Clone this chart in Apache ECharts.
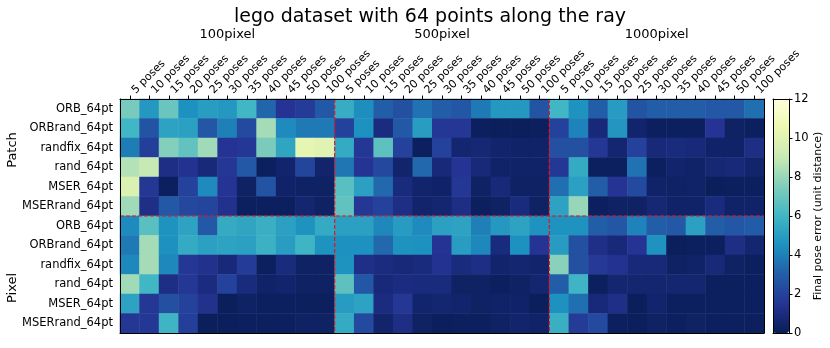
<!DOCTYPE html>
<html>
<head>
<meta charset="utf-8">
<script src="https://cdn.jsdelivr.net/npm/echarts@6/dist/echarts.min.js"></script>
<style>
  html, body { margin: 0; padding: 0; background: #fff; }
  #main { width: 830px; height: 348px; }
</style>
</head>
<body>
<div id="main"></div>
<script>
// column groups and pose counts
var groups = ['100pixel', '500pixel', '1000pixel'];
var poses = ['5 poses', '10 poses', '15 poses', '20 poses', '25 poses', '30 poses',
             '35 poses', '40 poses', '45 poses', '50 poses', '100 poses'];
var blocks = ['Patch', 'Pixel'];
var rowLabels = ['ORB_64pt', 'ORBrand_64pt', 'randfix_64pt', 'rand_64pt', 'MSER_64pt', 'MSERrand_64pt',
                 'ORB_64pt', 'ORBrand_64pt', 'randfix_64pt', 'rand_64pt', 'MSER_64pt', 'MSERrand_64pt'];
var cbTicks = [0, 2, 4, 6, 8, 10, 12];

// final pose error, 100pixel | 500pixel | 1000pixel
var patchORB = [7.3, 4.8, 7.0, 4.5, 5.0, 4.8, 6.0, 3.2, 1.5, 1.8, 2.8,
                5.6, 4.4, 3.0, 2.5, 3.6, 3.0, 2.7, 3.8, 4.8, 4.8, 2.6,
                6.0, 4.6, 3.0, 4.9, 2.6, 3.0, 3.0, 3.0, 2.8, 2.8, 3.5];
var patchORBrand = [6.0, 2.6, 5.2, 5.1, 2.7, 4.0, 2.3, 8.3, 4.3, 3.8, 3.8,
                    2.0, 4.5, 1.0, 2.8, 5.0, 1.6, 1.6, 0.2, 0.1, 0.1, 0.2,
                    2.0, 4.1, 0.8, 4.7, 0.5, 0.2, 0.2, 0.2, 1.5, 0.3, 0.2];
var patchRandfix = [3.9, 1.9, 7.6, 6.8, 8.2, 1.5, 1.6, 7.4, 5.3, 10.2, 10.0,
                    5.5, 1.6, 6.7, 2.0, 0.2, 2.0, 0.6, 0.7, 0.5, 0.4, 0.4,
                    2.5, 2.5, 1.6, 0.6, 2.0, 0.8, 0.9, 0.8, 0.4, 0.4, 1.1];
var patchRand = [8.6, 9.0, 1.1, 1.4, 0.8, 1.6, 2.8, 0.2, 0.5, 2.1, 0.5,
                 3.7, 1.5, 2.2, 0.5, 3.3, 0.8, 1.5, 0.8, 0.4, 0.4, 0.4,
                 1.6, 5.5, 0.2, 0.2, 3.6, 0.2, 0.5, 0.4, 0.7, 0.8, 0.5];
var patchMSER = [9.8, 1.6, 0.2, 2.0, 4.3, 1.5, 0.3, 2.6, 0.4, 0.3, 0.3,
                 6.6, 5.1, 3.3, 0.9, 0.5, 0.4, 1.6, 0.3, 0.8, 0.3, 0.3,
                 3.5, 5.1, 3.0, 1.5, 2.3, 0.4, 0.3, 0.4, 0.1, 0.2, 0.2];
var patchMSERrand = [8.2, 1.2, 2.8, 2.2, 2.1, 1.3, 0.2, 0.2, 0.2, 0.6, 0.3,
                     6.8, 1.6, 2.0, 1.1, 0.5, 0.6, 1.1, 0.2, 0.3, 0.9, 0.3,
                     5.2, 8.0, 0.2, 0.3, 0.3, 0.7, 0.4, 0.4, 0.9, 0.4, 0.4];
var pixelORB = [4.3, 6.6, 4.6, 5.2, 2.8, 5.5, 5.3, 5.7, 5.1, 4.6, 5.5,
                5.1, 5.1, 4.2, 4.9, 4.3, 5.1, 5.2, 4.0, 4.8, 5.2, 4.6,
                4.6, 4.6, 3.0, 2.7, 4.1, 3.0, 2.8, 5.1, 3.0, 2.7, 2.9];
var pixelORBrand = [3.8, 8.3, 4.5, 5.5, 5.1, 5.2, 5.1, 5.8, 5.0, 5.9, 4.6,
                    4.5, 4.5, 3.3, 4.6, 4.5, 1.5, 5.0, 4.2, 0.9, 4.5, 1.5,
                    4.9, 2.5, 1.2, 0.8, 1.5, 4.6, 0.1, 0.2, 0.2, 1.1, 0.6];
var pixelRandfix = [4.2, 8.3, 4.2, 1.6, 1.3, 0.8, 1.8, 0.2, 0.9, 0.3, 0.3,
                    4.6, 1.2, 1.0, 0.8, 0.9, 1.4, 0.9, 1.1, 0.5, 0.6, 0.5,
                    7.7, 2.5, 1.7, 1.4, 0.8, 0.8, 0.3, 0.4, 0.8, 0.3, 0.2];
var pixelRand = [8.2, 6.0, 1.1, 1.6, 1.0, 2.0, 0.9, 0.4, 0.5, 0.3, 0.3,
                 6.7, 2.7, 0.8, 1.0, 0.9, 0.9, 0.3, 0.3, 0.2, 0.3, 0.6,
                 3.0, 5.9, 0.2, 0.6, 0.6, 0.6, 0.6, 0.6, 0.2, 0.2, 0.2];
var pixelMSER = [5.2, 1.6, 2.5, 2.0, 1.3, 0.1, 0.3, 0.2, 0.2, 0.2, 0.2,
                 4.9, 5.2, 1.0, 1.6, 0.5, 0.6, 0.5, 0.3, 0.4, 0.4, 0.1,
                 4.5, 3.5, 0.8, 1.2, 0.1, 0.5, 0.2, 0.2, 0.2, 0.2, 0.2];
var pixelMSERrand = [1.6, 1.6, 5.9, 1.9, 0.1, 0.1, 0.2, 0.2, 0.2, 0.3, 0.3,
                     5.5, 2.3, 0.5, 1.1, 0.3, 0.1, 0.2, 0.2, 0.3, 0.5, 0.4,
                     5.7, 1.8, 2.3, 0.2, 0.1, 0.3, 0.2, 0.3, 0.2, 0.2, 0.2];

var rows = [patchORB, patchORBrand, patchRandfix, patchRand, patchMSER, patchMSERrand,
            pixelORB, pixelORBrand, pixelRandfix, pixelRand, pixelMSER, pixelMSERrand];

var xCats = [];
groups.forEach(function () { poses.forEach(function (p) { xCats.push(p); }); });

var cells = [];
rows.forEach(function (r, yi) {
  r.forEach(function (v, xi) { cells.push([xi, yi, v]); });
});

var nx = xCats.length, ny = rowLabels.length;
// red dashed separators along group / block boundaries
var sepLines = [];
for (var g = 1; g < groups.length; g++) {
  var xb = g * poses.length - 0.5;
  sepLines.push([[xb, -0.5], [xb, ny - 0.5]]);
}
for (var b = 1; b < blocks.length; b++) {
  var yb = b * ny / blocks.length - 0.5;
  sepLines.push([[-0.5, yb], [nx - 0.5, yb]]);
}

var font = 'DejaVu Sans';
var ylgnbu = ['#081d58', '#253494', '#225ea8', '#1d91c0', '#41b6c4', '#7fcdbb', '#c7e9b4', '#edf8b1', '#ffffd9'];

var myChart = echarts.init(document.getElementById('main'));
var blank = { show: false };
var frame = { show: true, onZero: false, lineStyle: { color: '#000', width: 1 } };

var option = {
  animation: false,
  textStyle: { fontFamily: font },
  grid: [
    { left: 120, top: 99, width: 644, height: 234 },
    { left: 773, top: 99, width: 16, height: 234 }
  ],
  xAxis: [
    {
      type: 'category', data: xCats, position: 'top', gridIndex: 0,
      axisLine: frame,
      axisTick: { show: true, alignWithLabel: true, length: 3.5, lineStyle: { color: '#000' } },
      axisLabel: { rotate: -45, fontSize: 11, color: '#000', margin: 11, interval: 0, verticalAlign: 'top' },
      splitLine: blank, z: 10
    },
    {
      type: 'value', min: -0.5, max: nx - 0.5, position: 'bottom', gridIndex: 0,
      axisLine: frame, axisTick: blank, axisLabel: blank, splitLine: blank, z: 10
    },
    {
      type: 'category', data: groups, position: 'top', gridIndex: 0, offset: 58,
      axisLine: blank, axisTick: blank, splitLine: blank,
      axisLabel: { fontSize: 13, color: '#000', margin: 0 }
    },
    {
      type: 'value', min: 0, max: 1, gridIndex: 1, position: 'bottom',
      axisLine: frame, axisTick: blank, axisLabel: blank, splitLine: blank, z: 10
    },
    {
      type: 'value', min: 0, max: 1, gridIndex: 1, position: 'top',
      axisLine: frame, axisTick: blank, axisLabel: blank, splitLine: blank, z: 10
    }
  ],
  yAxis: [
    {
      type: 'category', data: rowLabels, inverse: true, gridIndex: 0,
      axisLine: frame,
      axisTick: { alignWithLabel: true, length: 3.5, lineStyle: { color: '#000' } },
      axisLabel: { fontSize: 11.5, color: '#000', margin: 7, interval: 0 },
      splitLine: blank, z: 10
    },
    {
      type: 'value', min: -0.5, max: ny - 0.5, inverse: true, position: 'right', gridIndex: 0,
      axisLine: frame, axisTick: blank, axisLabel: blank, splitLine: blank, z: 10
    },
    {
      type: 'value', min: cbTicks[0], max: cbTicks[cbTicks.length - 1], interval: 2,
      gridIndex: 1, position: 'right',
      axisLine: frame,
      axisTick: { show: true, length: 3.5, lineStyle: { color: '#000' } },
      axisLabel: { fontSize: 11.5, color: '#000', margin: 5 },
      splitLine: blank, z: 10,
      name: 'Final pose error (unit distance)', nameLocation: 'middle', nameRotate: 90,
      nameGap: 24, nameTextStyle: { fontSize: 11, color: '#000' }
    },
    {
      type: 'value', min: 0, max: 1, gridIndex: 1, position: 'left',
      axisLine: frame, axisTick: blank, axisLabel: blank, splitLine: blank, z: 10
    }
  ],
  visualMap: {
    type: 'continuous', min: cbTicks[0], max: cbTicks[cbTicks.length - 1],
    seriesIndex: 0, calculable: false, text: null, showLabel: false,
    left: 773, top: 99, itemWidth: 16, itemHeight: 234, padding: 0,
    inRange: { color: ylgnbu }, hoverLink: false
  },
  graphic: [
    {
      type: 'text', x: 430, y: 17, z: 20,
      style: { text: 'lego dataset with 64 points along the ray', fontSize: 19, fontFamily: font, fill: '#000', align: 'center', verticalAlign: 'middle' }
    },
    {
      type: 'text', x: 13, y: 150, rotation: Math.PI / 2, z: 20,
      style: { text: blocks[0], fontSize: 13, fontFamily: font, fill: '#000', align: 'center', verticalAlign: 'middle' }
    },
    {
      type: 'text', x: 13, y: 288, rotation: Math.PI / 2, z: 20,
      style: { text: blocks[1], fontSize: 13, fontFamily: font, fill: '#000', align: 'center', verticalAlign: 'middle' }
    }
  ],
  series: [
    {
      type: 'heatmap', xAxisIndex: 0, yAxisIndex: 0, data: cells,
      itemStyle: { borderWidth: 0 }, progressive: 0
    }
  ].concat(sepLines.map(function (seg) {
    return {
      type: 'line', xAxisIndex: 1, yAxisIndex: 1, data: seg, symbol: 'none', silent: true, z: 5,
      lineStyle: { color: '#e8141c', width: 1.2, type: [4, 2] }
    };
  }))
};

myChart.setOption(option);
</script>
</body>
</html>
